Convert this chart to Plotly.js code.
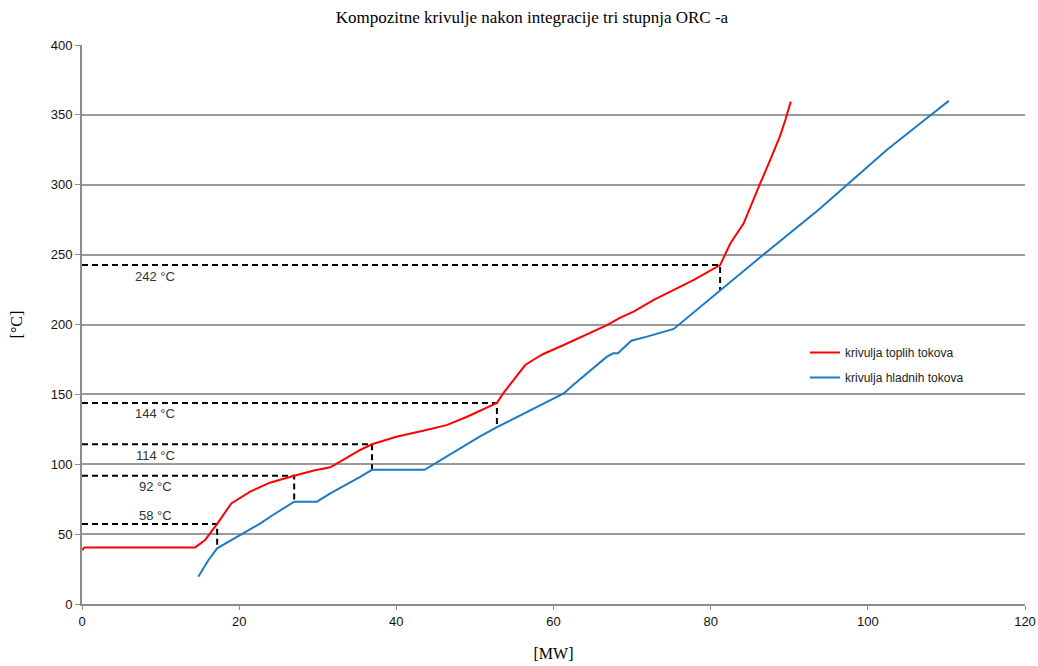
<!DOCTYPE html>
<html><head><meta charset="utf-8">
<script src="https://cdn.plot.ly/plotly-3.0.1.min.js"></script>
<style>body{margin:0;background:#fff}#chart{width:1038px;height:666px}</style>
</head><body><div id="chart"></div>
<script>
var hotX = [0, 0.3, 14.4, 15.7, 17.2, 19.0, 21.4, 23.9, 27.0, 29.5, 31.6, 32.8, 33.7, 35.4, 36.9, 40.0, 43.4, 46.4, 49.0, 52.8, 53.6, 54.9, 56.4, 57.4, 58.7, 61.3, 63.4, 66.8, 68.5, 70.2, 72.7, 76.1, 77.8, 81.2, 82.5, 84.2, 85.2, 86.3, 87.3, 88.8, 89.5, 90.2];
var hotT = [38.5, 40.5, 40.5, 46, 57.3, 72, 80.4, 86.8, 91.8, 95.5, 97.8, 101.8, 105, 110.2, 114.3, 119.7, 124, 128, 134, 143.9, 150.7, 160.3, 171, 174.6, 178.9, 185.3, 190.6, 199.6, 204.9, 209.2, 217.5, 227, 231.8, 242.5, 258, 272.4, 286.7, 301, 314, 334.4, 346.3, 359.5];
var coldX = [14.8, 16.1, 17.2, 20.1, 22.7, 24.3, 27.0, 29.9, 31.6, 35.4, 36.9, 43.6, 48.1, 50.6, 52.8, 58.3, 61.3, 62.5, 66.8, 67.6, 68.2, 69.9, 71.9, 75.3, 78.2, 81.2, 86.5, 93.7, 97.3, 102.4, 108.3, 110.3];
var coldT = [19.5, 31.5, 39.8, 49.4, 57.7, 63.7, 73.2, 73.2, 79.2, 91, 96, 96, 111.4, 119.7, 126.5, 142.4, 150.7, 156.7, 177, 179.4, 179.4, 188.4, 191.3, 196.8, 210.4, 224.5, 249, 281.9, 299.8, 324.9, 351.1, 360];
var pinchX = [17.2, 27.0, 36.9, 52.8, 81.2];
var pinchHotT = [57.3, 91.8, 114.3, 143.9, 242.5];
var pinchColdT = [39.8, 73.2, 96, 126.5, 224.5];
var pinchLabels = ['58 °C', '92 °C', '114 °C', '144 °C', '242 °C'];
var labelAbove = [true, false, false, false, false];
var seriesNames = ['krivulja toplih tokova', 'krivulja hladnih tokova'];
var xTicks = [0, 20, 40, 60, 80, 100, 120];
var yTicks = [0, 50, 100, 150, 200, 250, 300, 350, 400];

var traces = [];
pinchX.forEach(function(px, i){
  traces.push({x:[0, px, px], y:[pinchHotT[i], pinchHotT[i], pinchColdT[i]], mode:'lines',
    line:{color:'#000', width:2, dash:'6px,4px'}, showlegend:false, hoverinfo:'skip'});
});
traces.push({x:hotX, y:hotT, mode:'lines', name:seriesNames[0], legendgroup:'a', line:{color:'#ff0000', width:2}});
traces.push({x:coldX, y:coldT, mode:'lines', name:seriesNames[1], legendgroup:'b', line:{color:'#1b7ac6', width:2}});

var annotations = pinchLabels.map(function(t, i){
  return {x:9.3, y:pinchHotT[i], xref:'x', yref:'y', text:t, showarrow:false,
    yshift: labelAbove[i] ? 8 : -11, font:{family:'Liberation Sans, Arial, sans-serif', size:13, color:'#333'}};
});

var tickFont = {family:'Liberation Sans Narrow, Liberation Sans, Arial, sans-serif', size:13, color:'#111'};
var layout = {
  width:1038, height:666,
  margin:{l:82, r:13, t:45, b:62},
  paper_bgcolor:'#fff', plot_bgcolor:'#fff',
  title:{text:'Kompozitne krivulje nakon integracije tri stupnja ORC -a', x:532/1038, xanchor:'center', xref:'container', y:1-17/666, yanchor:'middle', yref:'container',
    font:{family:'Liberation Serif, Times New Roman, serif', size:17, color:'#000'}},
  xaxis:{range:[0,120], tickvals:xTicks, showgrid:false, zeroline:false, showline:true, linecolor:'#8c8c8c', linewidth:2,
    ticks:'outside', ticklen:4, tickcolor:'#8c8c8c', tickwidth:1, tickfont:tickFont,
    title:{text:'[MW]', standoff:20, font:{family:'Liberation Serif, Times New Roman, serif', size:16, color:'#000'}}},
  yaxis:{range:[0,400], tickvals:yTicks, showgrid:true, gridcolor:'#9a9a9a', gridwidth:2, zeroline:false, showline:true, linecolor:'#8c8c8c', linewidth:2,
    ticks:'outside', ticklen:5, tickcolor:'#8c8c8c', tickwidth:1, tickfont:tickFont,
    title:{text:'[°C]', standoff:24, font:{family:'Liberation Serif, Times New Roman, serif', size:16, color:'#000'}}},
  legend:{x:(805-82)/943, xanchor:'left', y:(604-338)/559, yanchor:'top', bgcolor:'rgba(0,0,0,0)', tracegroupgap:6,
    font:{family:'Liberation Sans, Arial, sans-serif', size:12, color:'#222'}},
  annotations:annotations,
  showlegend:true
};
Plotly.newPlot('chart', traces, layout, {staticPlot:true});
</script></body></html>
